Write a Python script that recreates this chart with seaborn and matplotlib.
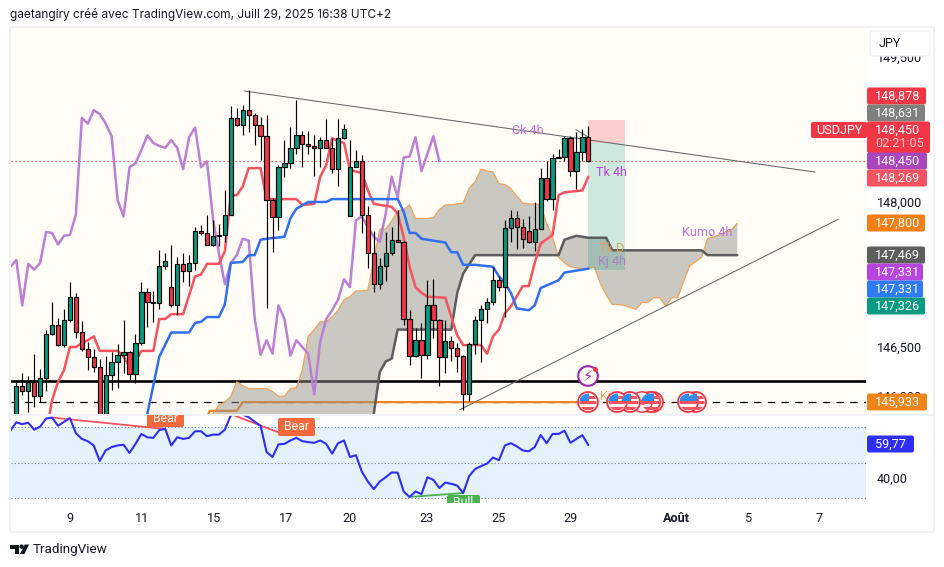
import numpy as np
import pandas as pd
import matplotlib
matplotlib.use("Agg")
import matplotlib.pyplot as plt
from matplotlib.patches import Rectangle, FancyBboxPatch, Circle, Polygon
from matplotlib.transforms import ScaledTranslation
import seaborn as sns

# ---------- candles (index = position of the 4h bar) ----------
opens = [145.81,146.10,146.05,146.14,145.99,146.18,146.63,146.73,146.52,146.78,147.02,146.66,146.48,146.40,146.29,145.81,146.21,146.34,146.42,146.45,146.22,146.54,147.07,146.97,146.95,147.34,147.12,146.93,147.36,147.29,147.37,147.70,147.68,147.56,147.65,147.66,147.87,148.87,148.80,148.95,148.90,148.80,148.68,148.02,147.84,148.36,148.40,148.56,148.69,148.60,148.58,148.56,148.64,148.56,148.34,148.66,147.86,148.36,148.42,147.87,147.47,147.15,147.34,147.47,147.61,147.59,146.79,146.41,146.57,146.42,146.93,146.78,146.40,146.56,146.49,146.41,146.01,146.53,146.78,146.89,146.97,147.19,147.12,147.73,147.83,147.74,147.70,147.59,147.72,148.25,148.03,148.46,148.47,148.66,148.32,148.52,148.67]
highs = [146.14,146.23,146.20,146.43,146.27,146.68,146.97,146.80,146.89,147.17,147.06,146.77,146.55,146.48,146.38,146.41,146.45,146.53,146.78,146.46,146.63,147.17,147.11,147.08,147.50,147.47,147.555,147.43,147.47,147.45,147.74,147.76,147.87,147.81,147.77,148.12,148.99,148.97,149.00,149.16,148.92,148.88,148.90,148.04,148.38,148.64,148.78,149.06,148.73,148.73,148.69,148.67,148.86,148.66,148.855,148.81,148.64,148.54,148.49,147.96,147.70,147.42,147.69,147.74,147.92,147.60,146.88,146.70,146.75,147.19,147.20,146.79,146.78,146.61,146.54,146.42,146.55,146.82,146.93,147.01,147.33,147.23,147.81,147.92,147.91,147.82,147.85,148.00,148.35,148.42,148.50,148.55,148.68,148.68,148.72,148.75,148.79]
lows = [145.78,146.00,145.83,145.88,145.93,146.05,146.62,146.51,146.50,146.76,146.59,146.46,146.26,146.24,145.70,145.70,146.06,146.08,146.23,146.16,146.13,146.52,146.71,146.76,146.89,147.31,146.91,146.83,147.17,147.13,147.30,147.66,147.55,147.54,147.54,147.59,147.87,148.79,148.69,148.72,148.59,148.43,146.90,147.48,147.71,148.26,148.35,148.50,148.36,148.50,148.27,148.36,148.56,148.30,148.17,148.65,147.86,148.36,147.68,147.32,147.07,147.10,147.18,147.45,147.59,146.73,146.31,146.40,146.18,146.38,146.59,146.10,146.23,146.36,146.24,145.85,145.94,146.43,146.35,146.75,146.93,147.08,146.81,147.59,147.51,147.52,147.58,147.49,147.72,148.01,147.92,148.46,148.42,148.27,148.13,148.42,148.41]
closes = [146.10,146.05,146.14,145.99,146.18,146.63,146.73,146.52,146.78,147.02,146.66,146.48,146.40,146.29,145.81,146.21,146.34,146.42,146.45,146.22,146.54,147.07,146.97,146.95,147.34,147.39,146.93,147.36,147.29,147.37,147.70,147.68,147.56,147.65,147.66,147.87,148.87,148.80,148.95,148.90,148.80,148.68,148.02,147.84,148.36,148.40,148.56,148.69,148.60,148.58,148.56,148.64,148.56,148.34,148.66,148.76,148.36,148.42,147.87,147.47,147.15,147.34,147.47,147.61,147.59,146.79,146.41,146.57,146.42,146.93,146.78,146.40,146.56,146.49,146.41,146.01,146.53,146.78,146.89,146.97,147.19,147.12,147.73,147.83,147.74,147.62,147.59,147.72,148.25,148.03,148.46,148.47,148.66,148.32,148.52,148.67,148.42]

# ---------- Ichimoku ----------
tenkan_x = [5.6,6,7,8,9,10,11,12,13,14,17,18,19,20,21,23,24,25,26,28,30,31,32,34,35,36,37,38,39,41,42,47,48,50,51,52,53,54,55,56,58,59,60,63,64,65,66,67,68,69,72,73,74,75,78,79,80,81,82,83,85,86,87,88,90,91,92,95,96]
tenkan_y = [145.81,145.95,146.14,146.26,146.50,146.50,146.54,146.57,146.61,146.46,146.46,146.40,146.30,146.35,146.46,146.46,146.79,146.79,146.84,146.84,147.23,147.25,147.36,147.36,147.49,148.07,148.07,148.16,148.35,148.35,148.03,148.03,147.97,147.98,148.26,148.38,148.66,148.63,148.61,148.33,148.30,148.12,147.98,147.95,147.88,147.64,147.33,147.12,147.06,147.02,147.01,146.81,146.62,146.52,146.52,146.43,146.61,146.68,146.85,146.92,147.13,147.13,147.37,147.57,147.66,148.07,148.10,148.12,148.26]
kijun_x = [22,24,26,29,30,31,32,34,35,36,38,39,40,41,42,45,46,47,49,52,53,64,65,66,67,68,72,73,74,75,77,80,81,82,83,84,86,87,88,91,92,95,96]
kijun_y = [145.81,146.40,146.65,146.65,146.75,146.76,146.81,146.81,146.94,147.37,147.38,147.45,147.45,147.61,147.62,147.64,147.83,147.93,148.00,148.00,148.03,148.03,147.90,147.68,147.68,147.62,147.58,147.48,147.48,147.35,147.35,147.33,147.23,147.16,147.06,146.90,146.88,146.93,147.11,147.19,147.27,147.30,147.31]
chikou_y = [147.33,147.40,146.93,147.36,147.30,147.37,147.69,147.68,147.56,147.65,147.66,147.87,148.87,148.81,148.95,148.91,148.81,148.68,148.02,147.85,148.36,148.40,148.54,148.69,148.61,148.58,148.56,148.64,148.56,148.34,148.67,148.77,148.36,148.42,147.83,147.47,147.15,147.37,147.45,147.62,147.60,146.80,146.42,146.57,146.43,146.93,146.79,146.41,146.57,146.50,146.43,146.01,146.55,146.79,146.88,146.99,147.20,147.12,147.81,147.85,147.74,147.64,147.59,147.88,148.26,148.05,148.46,148.47,148.67,148.32,148.50,148.68,148.42]
span_a_y = [145.81,145.90,145.93,145.99,146.14,146.10,146.07,146.07,146.07,146.07,146.04,145.99,145.99,146.07,146.08,146.26,146.61,146.68,146.76,146.76,146.81,146.88,146.99,147.02,147.08,147.08,147.09,147.40,147.72,147.72,147.80,147.91,147.92,147.97,147.83,147.83,147.83,147.84,147.92,147.97,147.97,147.98,147.99,148.14,148.21,148.34,148.32,148.31,148.19,148.18,148.14,148.06,147.99,147.98,147.98,147.97,147.78,147.64,147.43,147.37,147.33,147.32,147.31,147.31,147.33,147.16,147.04,146.94,146.94,146.93,146.91,146.89,146.96,146.96,147.01,147.01,146.92,147.01,147.01,147.18,147.34,147.38,147.43,147.62,147.64,147.66,147.69,147.71,147.78]
span_b_x = [60,61,62,63,64,73,74,75,77,91,92,94,96,99,100,115,116,121]
span_b_y = [145.81,146.24,146.35,146.38,146.68,146.68,147.06,147.26,147.45,147.45,147.61,147.65,147.63,147.63,147.50,147.50,147.45,147.45]
kijun_d_x = [32,32.5,37,38,96]
kijun_d_y = [145.78,145.84,145.84,145.93,145.93]

# ---------- RSI ----------
rsi_y = [67.9,72.6,71.6,72.4,68.5,70.2,74.8,75.3,70.7,72.9,75.0,66.5,63.3,62.0,59.6,50.9,56.8,58.7,59.6,60.0,55.4,60.5,66.1,64.2,63.9,68.3,68.9,59.6,64.2,63.3,63.9,67.6,67.6,64.8,65.7,65.7,68.5,76.5,80.0,77.0,75.5,73.0,70.7,55.9,53.1,60.2,60.5,62.4,63.9,62.0,61.5,61.1,62.4,60.5,55.0,60.9,62.4,53.1,54.1,44.8,39.3,35.0,39.3,41.7,44.4,44.3,33.7,30.6,33.7,32.2,41.7,40.2,35.6,38.7,38.0,37.0,32.8,42.4,46.3,48.0,49.4,52.8,51.3,59.6,60.9,59.1,56.8,56.3,58.7,65.5,60.9,66.1,66.1,67.9,61.1,63.3,65.4,59.77]

date_ticks = [9.0,21.1,33.2,45.2,56.0,68.9,81.0,93.0,110.8,122.9,134.8]
date_labels = ["9","11","15","17","20","23","25","29","Août","5","7"]
price_ticks = [149.5,148.5,148.0,147.5,146.5,146.0]
price_labels = ["149,500","148,500","148,000","147,500","146,500","146,000"]
tags = [("148,878",96,"#f23645",926),("148,631",113,"#808080",925),("148,450",130,"#f23645",930),
        ("148,450",161,"#ab47bc",927),("148,269",178,"#f7525f",927),("147,800",223,"#f57f17",925),
        ("147,469",255,"#5d5d5d",925),("147,331",272,"#b845dd",923),("147,331",289,"#2f7bf5",923),
        ("147,326",306,"#089981",925),("145,933",402,"#ef8518",927)]

W, H = 944, 567
BG = "#fffdf6"
sns.set_theme(style="white")
plt.rcParams["font.family"] = ["Roboto", "DejaVu Sans"]
fig = plt.figure(figsize=(W/100, H/100), dpi=100, facecolor="white")

def box(l, t, r, b):
    return [l/W, 1-b/H, (r-l)/W, (b-t)/H]

ax = fig.add_axes(box(11, 27, 866, 414), facecolor=BG)
rs = fig.add_axes(box(11, 415, 866, 503), facecolor="white")
ov = fig.add_axes([0, 0, 1, 1], facecolor="none", zorder=10)
ov.set_xlim(0, W); ov.set_ylim(H, 0); ov.axis("off")

xlim = (-0.89, 142.6)
ax.set_xlim(*xlim); ax.set_ylim(145.807, 149.81)
rs.set_xlim(*xlim); rs.set_ylim(27.2, 76.76)
for a in (ax, rs):
    for s in a.spines.values():
        s.set_visible(False)

# reference levels
ax.axhline(146.148, color="black", lw=1.9, zorder=1)
ax.axhline(145.933, color="black", lw=0.9, ls=(0, (6, 5)), zorder=1)
ax.axhline(148.42, color="#f23645", lw=0.9, ls=(0, (1, 2.2)), zorder=1)
sns.lineplot(x=kijun_d_x, y=kijun_d_y, ax=ax, color="#f57f17", lw=1.5, zorder=1.5, estimator=None, sort=False)

# cloud
idx_a = np.arange(33, 122)
poly_x = np.r_[idx_a, np.array(span_b_x)[::-1], 33]
poly_y = np.r_[span_a_y, np.array(span_b_y)[::-1], 145.70]
ax.fill(poly_x, poly_y, color="#8f8f88", alpha=0.48, lw=0, zorder=2)
sns.lineplot(x=idx_a, y=span_a_y, ax=ax, color="#f2a25c", lw=0.9, zorder=2.1, estimator=None, sort=False)

# position tool
ax.add_patch(Rectangle((96, 148.61), 6.2, 0.24, color="#f7525f", alpha=0.27, lw=0, zorder=2.5))
ax.add_patch(Rectangle((96, 147.30), 6.2, 1.31, color="#089981", alpha=0.2, lw=0, zorder=2.5))

# trend lines
sns.lineplot(x=[38.3, 134], y=[149.148, 148.31], ax=ax, color="#666666", lw=0.75, zorder=2.6)
sns.lineplot(x=[74.4, 137.9], y=[145.85, 147.82], ax=ax, color="#666666", lw=0.75, zorder=2.6)
sns.lineplot(x=[93.9, 96], y=[148.75, 148.67], ax=ax, color="#666666", lw=0.7, zorder=2.6)

sns.lineplot(x=span_b_x, y=span_b_y, ax=ax, color="#5d5d5d", lw=1.8, zorder=3, estimator=None, sort=False)
df = pd.DataFrame({"i": np.arange(-1, 72), "chikou": chikou_y})
sns.lineplot(data=df, x="i", y="chikou", ax=ax, color="#bd7fd3", lw=1.8, zorder=3, estimator=None, sort=False)
sns.lineplot(x=tenkan_x, y=tenkan_y, ax=ax, color="#f7525f", lw=1.8, zorder=3.1, estimator=None, sort=False)
sns.lineplot(x=kijun_x, y=kijun_y, ax=ax, color="#2f6ff0", lw=1.8, zorder=3.1, estimator=None, sort=False)

# candles
o, h, l, c = map(np.array, (opens, highs, lows, closes))
x = np.arange(len(o))
cols = np.where(c >= o, "#089981", "#f23645")
ax.vlines(x, l, h, color="black", lw=0.85, zorder=4)
ax.bar(x, np.abs(c-o), bottom=np.minimum(o, c), width=0.72, color=cols, edgecolor="black", lw=0.85, zorder=4.1)

# price axis ticks
ax.yaxis.tick_right()
ax.set_yticks(price_ticks, price_labels)
ax.set_xticks([])
ax.tick_params(axis="y", length=0, pad=8, labelsize=9.1, labelcolor="#131722")
ax.set_xlabel(""); ax.set_ylabel("")

# RSI
rs.axhspan(30, 70, color="#e3f2fd", lw=0, zorder=0)
for v in (30, 50, 70):
    rs.axhline(v, color="#787b86", lw=0.8, ls=(0, (1, 2)), zorder=1)
sns.lineplot(x=np.arange(-1, 97), y=rsi_y, ax=rs, color="#2e2ef5", lw=1.5, zorder=3, estimator=None, sort=False)
sns.lineplot(x=[6, 25], y=[75.3, 68.9], ax=rs, color="#f7525f", lw=1.3, zorder=2.8)
sns.lineplot(x=[36.7, 44], y=[76.3, 67], ax=rs, color="#f7525f", lw=1.3, zorder=2.8)
sns.lineplot(x=[66, 75], y=[30.6, 32.8], ax=rs, color="#4caf50", lw=1.3, zorder=2.8)
rs.yaxis.tick_right()
rs.set_yticks([40], ["40,00"])
rs.set_xticks(date_ticks, date_labels)
rs.tick_params(axis="y", length=0, pad=8, labelsize=9.1, labelcolor="#131722")
rs.tick_params(axis="x", length=0, pad=6.8, labelsize=9.1, labelcolor="#131722")
for lab in rs.get_xticklabels():
    if lab.get_text() == "Août":
        lab.set_fontweight("bold")
for lab in rs.get_yticklabels():
    lab.set_transform(lab.get_transform() + ScaledTranslation(0, 2/72, fig.dpi_scale_trans))
rs.set_xlabel(""); rs.set_ylabel("")

# RSI pattern tags
def clipped_tag(l, t, r, b, text, col, ty):
    p = FancyBboxPatch((l+1, t+1), r-l-2, b-t-2, boxstyle="round,pad=1,rounding_size=2", fc=col, ec="none", zorder=6)
    ov.add_patch(p); p.set_clip_box(rs.bbox); p.set_clip_on(True)
    t_ = ov.text((l+r)/2, ty, text, color="white", fontsize=8.8, ha="center", va="center", zorder=7)
    t_.set_clip_box(rs.bbox); t_.set_clip_on(True)
clipped_tag(147, 405, 184, 427, "Bear", "#f4683c", 419)
clipped_tag(278, 418, 315, 436, "Bear", "#f4683c", 427)
clipped_tag(447, 495, 480, 515, "Bull", "#4caf50", 503)

# frame
ov.add_patch(Rectangle((10, 27), 923.5, 505, fc="none", ec="#eef0f3", lw=1.3, zorder=1))
ov.plot([10, 933], [414.5, 414.5], color="#eef0f3", lw=1.2, zorder=1)

# event markers
def flag(cx, cy=402, r=10, plain=False):
    circ = Circle((cx, cy), r, fc="white", ec="#f23645", lw=1.3, zorder=8)
    ov.add_patch(circ)
    if plain:
        ov.add_patch(Circle((cx, cy), r-0.6, fc="#eef1fb", ec="none", zorder=8))
        ov.add_patch(Circle((cx+1, cy), 3, fc="#f7525f", ec="none", zorder=8.1))
        return
    for yy, col in ((cy-6.5, "#f7525f"), (cy-1, "#f7525f"), (cy+4.5, "#f7525f")):
        rr = Rectangle((cx-r, yy), 2*r, 3, fc=col, ec="none", zorder=8.1)
        ov.add_patch(rr); rr.set_clip_path(Circle((cx, cy), r-1.5, transform=ov.transData))
    rr = Rectangle((cx-r, cy-r), r+1, r-1, fc="#2b8df0", ec="none", zorder=8.2)
    ov.add_patch(rr); rr.set_clip_path(Circle((cx, cy), r-1.5, transform=ov.transData))

ov.text(600, 396, "Ki", color="#f2a25c", fontsize=9, ha="left", va="center", zorder=7)
flag(696); flag(688)
flag(653); flag(650); flag(642, plain=True); flag(630); flag(617); flag(588)
ov.add_patch(Circle((588, 376), 9.8, fc=BG, ec="#9c27b0", lw=1.5, zorder=8))
ov.text(588, 376, "\u26a1", color="#9c27b0", fontsize=10.5, ha="center", va="center", family="DejaVu Sans", zorder=8.1)
ov.add_patch(Circle((595.5, 369.5), 2.5, fc="#f23645", ec="none", zorder=8.2))

# drawing labels
for tx, ty, s, col in [(528, 131, "Ck 4h", "#c06ce0"), (612, 172, "Tk 4h", "#b845dd"),
                       (612, 248, "Tk D", "#e8a05e"), (612, 262, "Kj 4h", "#b07cc8"),
                       (707, 233, "Kumo 4h", "#c06ce0")]:
    ov.text(tx, ty, s, color=col, fontsize=9.1, ha="center", va="center", zorder=7)

# price tags
for txt, y, col, right in tags:
    ov.add_patch(FancyBboxPatch((868, y-7.5), right-869, 15, boxstyle="round,pad=1,rounding_size=2", fc=col, ec="none", zorder=9))
    ov.text(875, y, txt, color="white", fontsize=9.1, ha="left", va="center", zorder=9.5)
ov.add_patch(FancyBboxPatch((868, 123), 61, 29, boxstyle="round,pad=1,rounding_size=2", fc="#f23645", ec="none", zorder=8.9))
ov.text(875, 143.5, "02:21:05", color="#fbc6cb", fontsize=9.1, ha="left", va="center", zorder=9.5)
ov.add_patch(FancyBboxPatch((812, 123), 54, 14, boxstyle="round,pad=1,rounding_size=2", fc="#f23645", ec="none", zorder=8.9))
ov.text(839, 130.5, "USDJPY", color="white", fontsize=9.1, ha="center", va="center", zorder=9.5)
ov.add_patch(FancyBboxPatch((868, 444-7.5), 45, 15, boxstyle="round,pad=1,rounding_size=2", fc="#2e2ef5", ec="none", zorder=9))
ov.text(875, 444, "59,77", color="white", fontsize=9.1, ha="left", va="center", zorder=9.5)

# currency box (hides the upper part of the top tick)
ov.add_patch(Rectangle((868, 28), 65, 28, fc="white", ec="none", zorder=8))
ov.add_patch(FancyBboxPatch((871, 32), 58, 23, boxstyle="round,pad=1,rounding_size=3", fc="white", ec="#eef0f3", lw=1, zorder=9))
ov.text(879, 43.5, "JPY", color="#131722", fontsize=9.1, ha="left", va="center", zorder=9.5)

# header and footer
ov.text(10, 14.5, "gaetangiry créé avec TradingView.com, Juill 29, 2025 16:38 UTC+2", color="#131722",
        fontsize=8.54, family=["Inter", "DejaVu Sans"], ha="left", va="center")
ov.add_patch(Polygon([(10, 544.5), (19, 544.5), (19, 554), (14.5, 554), (14.5, 549), (10, 549)], fc="#131722", ec="none"))
ov.add_patch(Circle((21.6, 546.6), 2.2, fc="#131722", ec="none"))
ov.add_patch(Polygon([(24.8, 544.5), (29, 544.5), (24.5, 554), (20, 554)], fc="#131722", ec="none"))
ov.text(33, 550, "TradingView", color="#131722", fontsize=9.7, ha="left", va="center")

fig.savefig("out.png", dpi=100, facecolor="white")
